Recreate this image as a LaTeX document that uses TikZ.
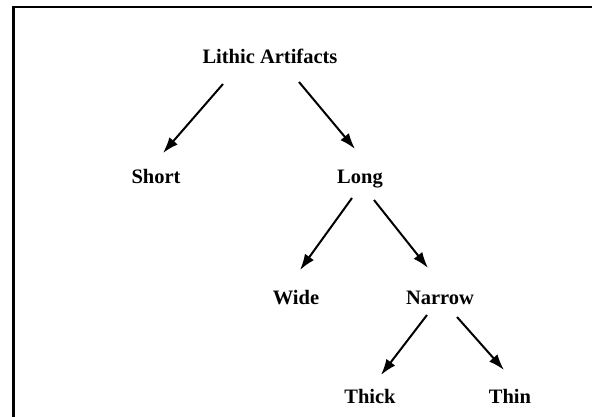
\documentclass[tikz,border=0pt]{standalone}
\usepackage{fontspec}
\setmainfont{Liberation Serif}
\usetikzlibrary{arrows.meta}
\tikzset{
  lbl/.style={anchor=base, inner sep=0pt, font=\fontsize{20.5}{24}\selectfont\bfseries},
  arr/.style={line width=2pt, -{Latex[length=16pt,width=11pt]}},
  frame/.style={line width=2.2pt}
}
\begin{document}
\begin{tikzpicture}[x=1pt,y=1pt]
\fill[white] (0,0) rectangle (592,416);
\useasboundingbox (0,0) rectangle (592,416);
\draw[frame] (13.5,-2) -- (13.5,409) -- (594,409);
\node[lbl] (lit) at (270,352) {Lithic Artifacts};
\node[lbl] (short) at (156,233) {Short};
\node[lbl] (long) at (360,233) {Long};
\node[lbl] (wide) at (296,112) {Wide};
\node[lbl] (narrow) at (440,112) {Narrow};
\node[lbl] (thick) at (370,13) {Thick};
\node[lbl] (thin) at (510,13) {Thin};
\draw[arr] ([shift={(-47,-20)}]lit.base) -- ([shift={(7,30)}]short.base);
\draw[arr] ([shift={(29,-18)}]lit.base) -- ([shift={(-5,34)}]long.base);
\draw[arr] ([shift={(-8,-15)}]long.base) -- ([shift={(4,34)}]wide.base);
\draw[arr] ([shift={(14,-17)}]long.base) -- ([shift={(-12,36)}]narrow.base);
\draw[arr] ([shift={(-13,-11)}]narrow.base) -- ([shift={(11,28)}]thick.base);
\draw[arr] ([shift={(17,-13)}]narrow.base) -- ([shift={(-6,33)}]thin.base);
\end{tikzpicture}
\end{document}
